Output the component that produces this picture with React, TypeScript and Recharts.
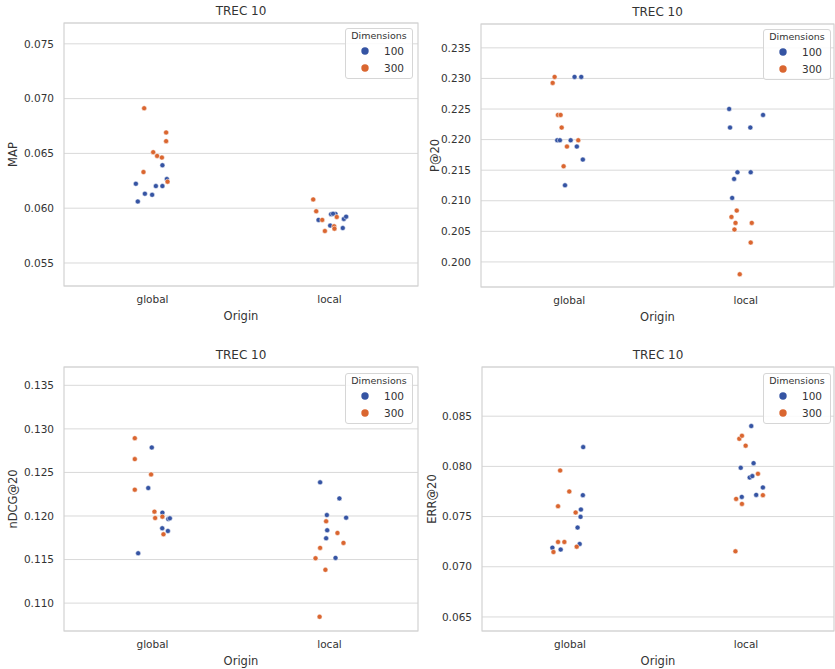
import { CartesianGrid, Legend, ReferenceArea, Scatter, ScatterChart, XAxis, YAxis } from 'recharts';

const ORIGINS = ['global', 'local'];
const DIMENSIONS = ['100', '300'];
const COLORS: Record<string, string> = { '100': '#3554a3', '300': '#da6630' };
const FONT = '"DejaVu Sans", Verdana, sans-serif';

// [origin, strip jitter, value]
type Pt = [string, number, number];

const map100: Pt[] = [
  ['global', -0.094, 0.06223], ['global', -0.083, 0.06061], ['global', -0.043, 0.06132], ['global', -0.002, 0.06122],
  ['global', 0.019, 0.06202], ['global', 0.056, 0.06202], ['global', 0.056, 0.06392], ['global', 0.081, 0.06266],
  ['local', -0.062, 0.05893], ['local', 0.009, 0.05945], ['local', 0.034, 0.05948], ['local', 0.02, 0.0595],
  ['local', 0.081, 0.05902], ['local', 0.094, 0.05923], ['local', 0.004, 0.05841], ['local', 0.075, 0.05819],
];
const map300: Pt[] = [
  ['global', -0.047, 0.06912], ['global', 0.077, 0.06691], ['global', 0.077, 0.06612], ['global', 0.004, 0.06511],
  ['global', 0.026, 0.06477], ['global', 0.053, 0.06462], ['global', -0.051, 0.0633], ['global', 0.085, 0.06242],
  ['local', -0.092, 0.0608], ['local', -0.075, 0.05972], ['local', -0.041, 0.05893], ['local', 0.041, 0.0592],
  ['local', 0.026, 0.05835], ['local', 0.028, 0.05813], ['local', -0.026, 0.05792],
];

const p100: Pt[] = [
  ['global', 0.03, 0.23025], ['global', 0.068, 0.23025], ['global', -0.068, 0.21989], ['global', -0.053, 0.21989],
  ['global', 0.008, 0.21989], ['global', 0.043, 0.21886], ['global', 0.077, 0.21673], ['global', -0.024, 0.21253],
  ['local', -0.094, 0.22501], ['local', 0.098, 0.22403], ['local', -0.089, 0.22196], ['local', 0.026, 0.22196],
  ['local', -0.047, 0.21466], ['local', 0.028, 0.21466], ['local', -0.066, 0.21357], ['local', -0.077, 0.21046],
];
const p300: Pt[] = [
  ['global', -0.083, 0.23025], ['global', -0.094, 0.22927], ['global', -0.064, 0.22403], ['global', -0.049, 0.22403],
  ['global', -0.043, 0.22196], ['global', 0.051, 0.21989], ['global', -0.013, 0.21886], ['global', -0.032, 0.21564],
  ['local', -0.051, 0.20839], ['local', -0.081, 0.20736], ['local', -0.058, 0.20638], ['local', 0.034, 0.20638],
  ['local', -0.064, 0.20529], ['local', 0.028, 0.20316], ['local', -0.034, 0.19798],
];

const ndcg100: Pt[] = [
  ['global', -0.004, 0.12786], ['global', -0.024, 0.12321], ['global', 0.056, 0.12038], ['global', 0.089, 0.11966],
  ['global', 0.098, 0.11973], ['global', 0.055, 0.11859], ['global', 0.087, 0.11828], ['global', -0.081, 0.11572],
  ['local', -0.053, 0.12386], ['local', 0.056, 0.12202], ['local', -0.015, 0.12011], ['local', 0.094, 0.11981],
  ['local', -0.013, 0.11836], ['local', -0.019, 0.11744], ['local', 0.034, 0.11519],
];
const ndcg300: Pt[] = [
  ['global', -0.1, 0.12893], ['global', -0.1, 0.12653], ['global', -0.008, 0.12477], ['global', -0.1, 0.12302],
  ['global', 0.011, 0.1205], ['global', 0.015, 0.11977], ['global', 0.056, 0.11992], ['global', 0.062, 0.1179],
  ['local', -0.019, 0.11939], ['local', 0.045, 0.11805], ['local', 0.079, 0.11691], ['local', -0.053, 0.11634],
  ['local', -0.079, 0.11515], ['local', -0.023, 0.11382], ['local', -0.056, 0.10843],
];

const err100: Pt[] = [
  ['global', 0.075, 0.08192], ['global', 0.073, 0.07713], ['global', 0.062, 0.0757], ['global', 0.06, 0.07497],
  ['global', 0.043, 0.0739], ['global', 0.055, 0.07227], ['global', -0.1, 0.0719], ['global', -0.053, 0.07171],
  ['local', 0.03, 0.08402], ['local', 0.043, 0.08032], ['local', -0.03, 0.07986], ['local', 0.021, 0.07889],
  ['local', 0.036, 0.07903], ['local', 0.096, 0.0779], ['local', 0.058, 0.07716], ['local', -0.024, 0.07696],
];
const err300: Pt[] = [
  ['global', -0.056, 0.07959], ['global', -0.004, 0.0775], ['global', -0.068, 0.07603], ['global', 0.032, 0.0754],
  ['global', -0.068, 0.07247], ['global', -0.032, 0.07247], ['global', 0.038, 0.072], ['global', -0.094, 0.07147],
  ['local', -0.038, 0.08275], ['local', -0.023, 0.08305], ['local', -0.002, 0.08206], ['local', 0.068, 0.07926],
  ['local', 0.096, 0.07713], ['local', -0.056, 0.07676], ['local', -0.023, 0.07626], ['local', -0.06, 0.07154],
];

const mapTicks = [0.055, 0.06, 0.065, 0.07, 0.075];
const pTicks = [0.2, 0.205, 0.21, 0.215, 0.22, 0.225, 0.23, 0.235];
const ndcgTicks = [0.11, 0.115, 0.12, 0.125, 0.13, 0.135];
const errTicks = [0.065, 0.07, 0.075, 0.08, 0.085];

const toPoints = (pts: Pt[]) => pts.map(([o, j, v]) => ({ x: ORIGINS.indexOf(o) + j, y: v }));

const Dot = (color: string) => (p: any) => (
  <circle cx={p.cx} cy={p.cy} r={2.5} fill={color} stroke="#fff" strokeWidth={0.5} />
);

function LegendBox() {
  return (
    <div
      style={{
        width: 66,
        height: 49,
        border: '1px solid #d6d6d6',
        borderRadius: 3,
        background: 'rgba(255,255,255,0.85)',
        fontFamily: FONT,
        color: '#333',
      }}
    >
      <div style={{ fontSize: 9.5, lineHeight: '12px', textAlign: 'center', marginTop: 1 }}>Dimensions</div>
      {DIMENSIONS.map((d) => (
        <div key={d} style={{ display: 'flex', alignItems: 'center', height: 17, paddingLeft: 15, paddingRight: 8 }}>
          <svg width={8} height={8}>
            <circle cx={4} cy={4} r={3.7} fill={COLORS[d]} />
          </svg>
          <span style={{ marginLeft: 'auto', fontSize: 10.5 }}>{d}</span>
        </div>
      ))}
    </div>
  );
}

interface PanelProps {
  metric: string;
  ticks: number[];
  domain: [number, number];
  s100: Pt[];
  s300: Pt[];
  left: number;
  top: number;
  height: number;
  margin: { top: number; right: number; left: number; bottom: number };
  yWidth: number;
  yLabelX: number;
  legendPos: { left: number; top: number };
}

function Panel(props: PanelProps) {
  const { metric, ticks, domain, s100, s300, left, top, height, margin, yWidth, yLabelX, legendPos } = props;
  const plotLeft = margin.left + yWidth;
  const plotWidth = 420 - plotLeft - margin.right;
  return (
    <div style={{ position: 'absolute', left, top, width: 420, height }}>
      <div
        style={{
          position: 'absolute',
          left: plotLeft,
          width: plotWidth,
          top: margin.top - 19,
          lineHeight: '14px',
          textAlign: 'center',
          fontFamily: FONT,
          fontSize: 12,
          color: '#333',
        }}
      >
        TREC 10
      </div>
      <ScatterChart width={420} height={height} margin={margin}>
        <CartesianGrid horizontal vertical={false} stroke="#d9d9d9" />
        <ReferenceArea x1={-0.5} x2={1.5} y1={domain[0]} y2={domain[1]} fill="none" stroke="#d2d2d2" strokeWidth={1.2} />
        <XAxis
          type="number"
          dataKey="x"
          domain={[-0.5, 1.5]}
          ticks={[0, 1]}
          allowDataOverflow
          tickFormatter={(v) => ORIGINS[v] ?? ''}
          axisLine={false}
          tickLine={false}
          tickSize={0}
          tickMargin={10}
          height={36}
          tick={{ fill: '#333', fontSize: 10.5, fontFamily: FONT }}
          label={{ value: 'Origin', position: 'insideBottom', offset: 2, fill: '#333', fontSize: 11.5, fontFamily: FONT }}
        />
        <YAxis
          type="number"
          dataKey="y"
          domain={domain}
          ticks={ticks}
          allowDataOverflow
          tickFormatter={(v) => Number(v).toFixed(3)}
          axisLine={false}
          tickLine={false}
          tickSize={0}
          tickMargin={10}
          width={yWidth}
          tick={{ fill: '#333', fontSize: 10.5, fontFamily: FONT }}
          label={{
            value: metric,
            angle: -90,
            position: 'insideLeft',
            offset: yLabelX,
            fill: '#333',
            fontSize: 11.5,
            fontFamily: FONT,
            style: { textAnchor: 'middle' },
          }}
        />
        <Legend
          layout="horizontal"
          verticalAlign="middle"
          align="center"
          content={() => <LegendBox />}
          wrapperStyle={{ left: legendPos.left, top: legendPos.top, width: 68, height: 51 }}
        />
        <Scatter name="100" data={toPoints(s100)} shape={Dot(COLORS['100'])} isAnimationActive={false} />
        <Scatter name="300" data={toPoints(s300)} shape={Dot(COLORS['300'])} isAnimationActive={false} />
      </ScatterChart>
    </div>
  );
}

export default function App() {
  return (
    <div style={{ position: 'absolute', left: 0, top: 0, width: 835, height: 669, background: '#fff', overflow: 'hidden' }}>
      <Panel
        metric="MAP"
        ticks={mapTicks}
        domain={[0.0529, 0.0769]}
        s100={map100}
        s300={map300}
        left={0}
        top={0}
        height={335}
        margin={{ top: 23, right: 2, left: 0, bottom: 13 }}
        yWidth={64}
        yLabelX={13}
        legendPos={{ left: 345, top: 28 }}
      />
      <Panel
        metric="P@20"
        ticks={pTicks}
        domain={[0.1959, 0.2389]}
        s100={p100}
        s300={p300}
        left={415}
        top={0}
        height={335}
        margin={{ top: 24, right: 1, left: 0, bottom: 12 }}
        yWidth={66}
        yLabelX={20}
        legendPos={{ left: 348, top: 29 }}
      />
      <Panel
        metric="nDCG@20"
        ticks={ndcgTicks}
        domain={[0.1068, 0.1371]}
        s100={ndcg100}
        s300={ndcg300}
        left={0}
        top={335}
        height={334}
        margin={{ top: 32, right: 2, left: 0, bottom: 2 }}
        yWidth={64}
        yLabelX={13}
        legendPos={{ left: 345, top: 38 }}
      />
      <Panel
        metric="ERR@20"
        ticks={errTicks}
        domain={[0.0636, 0.0899]}
        s100={err100}
        s300={err300}
        left={415}
        top={335}
        height={334}
        margin={{ top: 32, right: 1, left: 0, bottom: 2 }}
        yWidth={67}
        yLabelX={17}
        legendPos={{ left: 348, top: 38 }}
      />
    </div>
  );
}
